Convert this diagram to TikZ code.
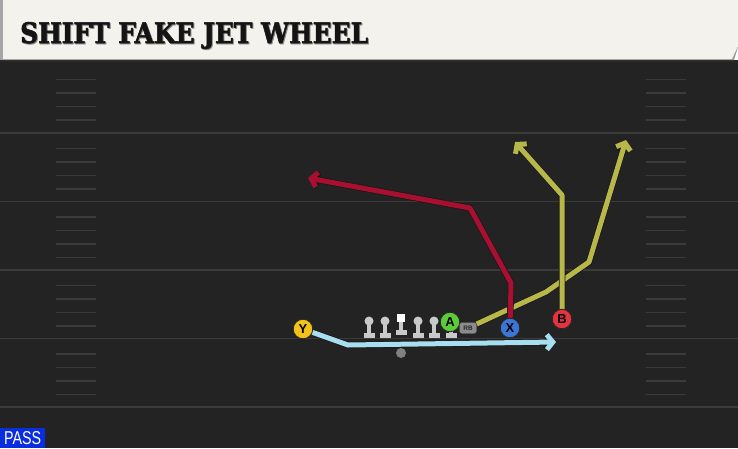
\documentclass[tikz,border=0pt]{standalone}
\usepackage{fontspec}
\setsansfont{Liberation Sans}
\newfontfamily\titlefont{DejaVu Serif}[BoldFeatures={FakeBold=2}]
\usetikzlibrary{arrows.meta}
\definecolor{fieldgray}{HTML}{232323}
\definecolor{linegray}{HTML}{3A3A3A}
\definecolor{bannercol}{HTML}{F4F2EC}
\definecolor{routered}{HTML}{A80F30}
\definecolor{routeolive}{HTML}{B8B84A}
\definecolor{routeblue}{HTML}{A8DFF0}
\definecolor{ycol}{HTML}{F2C21B}
\definecolor{acol}{HTML}{5BCB3A}
\definecolor{xcol}{HTML}{3B76D6}
\definecolor{bcol}{HTML}{E2333F}
\definecolor{mangray}{HTML}{C9C9C9}
\definecolor{passblue}{HTML}{0A2DE0}
\begin{document}
\begin{tikzpicture}[x=1pt,y=-1pt,
	player/.style={circle,draw=black!85,line width=0.8pt,minimum size=19.5pt,inner sep=0pt,font=\sffamily\bfseries\fontsize{13}{13}\selectfont},
	route/.style={line width=5pt,line join=round,-{Straight Barb[length=6pt,width=15pt]},preaction={draw=black!90,line width=6.5pt,-{Straight Barb[length=6pt,width=15pt]}}}]
	\useasboundingbox (0,0) rectangle (738,448);
	\fill[fieldgray] (0,60) rectangle (738,448);
	\fill[black!85] (0,60) rectangle (738,63);
	\foreach \yl in {133,201.5,270,338.5,407} \draw[linegray,line width=1.5pt] (0,\yl)--(738,\yl);
	\foreach \yl in {64,133,201.5,270,338.5} \foreach \dy in {15.5,29,42.5,56} {
		\draw[linegray,line width=1.5pt] (56,\yl+\dy)--(96,\yl+\dy);
		\draw[linegray,line width=1.5pt] (646,\yl+\dy)--(686,\yl+\dy);
	}
	\fill[black!40] (3,0)--(738,0)--(738,47)--(734,60)--(3,60)--cycle;
	\fill[bannercol] (3,0)--(738,0)--(738,46)--(732,59)--(3,59)--cycle;
	\fill[black!35] (0,0) rectangle (3,60);
	\node[anchor=base west,inner sep=0pt,text=black!45] (titleshadow) at (21,44) {\resizebox{348pt}{21pt}{\titlefont\bfseries SHIFT FAKE JET WHEEL}};
	\node[anchor=base west,inner sep=0pt,text=black!92] (title) at (20,43) {\resizebox{348pt}{21pt}{\titlefont\bfseries SHIFT FAKE JET WHEEL}};
	\foreach \lx in {369,385,418,434,451} {
		\fill[mangray] (\lx,321) circle (4.5);
		\fill[mangray] (\lx-2,322) rectangle (\lx+2,333);
		\fill[mangray] (\lx-5.5,333) rectangle (\lx+5.5,338);
	}
	\fill[white] (397,314) rectangle (405,322);
	\fill[mangray] (399,322) rectangle (403,330);
	\fill[mangray] (395.5,330) rectangle (406.5,334.5);
	\node[circle,fill=black!50,minimum size=10pt,inner sep=0pt] (qb) at (401,353) {};
	\node[player,fill=ycol] (y) at (303,329) {Y};
	\node[player,fill=acol] (a) at (450,322) {A};
	\node[player,fill=xcol] (x) at (510,328) {X};
	\node[player,fill=bcol] (b) at (562,319) {B};
	\node[rounded corners=2.5pt,fill=black!45,draw=black!70,minimum width=17pt,minimum height=11pt,inner sep=0pt,font=\sffamily\bfseries\fontsize{6.5}{6.5}\selectfont,text=black!85] (rb) at (468,328) {RB};
	\coordinate (ybend) at (348,345);
	\coordinate (yend) at (556,342);
	\coordinate (xbend) at (511,283);
	\coordinate (xcut) at (470,208);
	\coordinate (xend) at (308,178);
	\coordinate (rbbend) at (546,292);
	\coordinate (rbturn) at (589,262);
	\coordinate (rbend) at (626,140);
	\coordinate (bbend) at (562,195);
	\coordinate (bend) at (515,142);
	\draw[route,routeblue] (y)--(ybend)--(yend);
	\draw[route,routeolive] (rb)--(rbbend)--(rbturn)--(rbend);
	\draw[route,routered] (x)--(xbend)--(xcut)--(xend);
	\draw[route,routeolive] (b)--(bbend)--(bend);
	\node[player,fill=xcol] at (x) {X};
	\node[player,fill=bcol] at (b) {B};
	\node[fill=passblue,minimum width=45pt,minimum height=20pt,inner sep=0pt,anchor=south west,text=white] (pass) at (0,448) {\resizebox{37pt}{13pt}{\sffamily PASS}};
\end{tikzpicture}
\end{document}
